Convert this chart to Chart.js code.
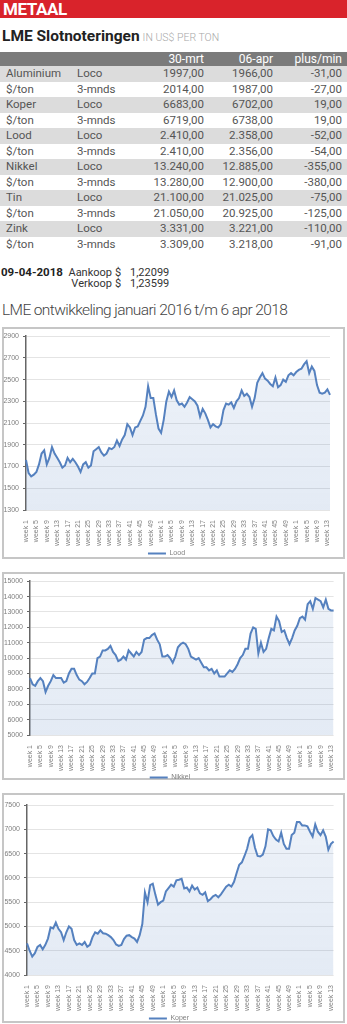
<!DOCTYPE html>
<html>
<head>
<meta charset="utf-8">
<script src="https://cdn.jsdelivr.net/npm/chart.js@4.4.1/dist/chart.umd.min.js"></script>
<style>
  html, body { margin: 0; padding: 0; width: 347px; height: 1024px; overflow: hidden; background: #fff; }
  body { position: relative; font-family: Roboto, "Liberation Sans", sans-serif; color: #444; }
  .abs { position: absolute; white-space: nowrap; }
  #kop { left: 0; top: 0; width: 347px; height: 18px; background: #d9232b; color: #fff;
         font-weight: 700; font-size: 17px; line-height: 18px; padding-left: 3px; box-sizing: border-box; letter-spacing: -0.4px; }
  #titel { left: 2px; top: 29px; font-size: 15.5px; line-height: 15px; font-weight: 700; color: #222; }
  #titel span { font-weight: 300; font-size: 10.5px; color: #a8a8a8; margin-left: 3px; }
  #tabel { left: 0; top: 52px; width: 347px; font-size: 11.5px; }
  .rij { position: relative; height: 15.5px; line-height: 15.5px; color: #555; }
  .rij.kopr { height: 14px; line-height: 14px; background: #7b7b7b; color: #fff; font-size: 12px; }
  .rij.grijs { background: #dcdcdc; }
  .rij div { position: absolute; top: 0; }
  .c1 { left: 6px; } .c2 { left: 77px; }
  .c3 { right: 143px; } .c4 { right: 74px; } .c5 { right: 5px; }
  #koers { left: 0; top: 265px; width: 200px; height: 24px; font-size: 11px; line-height: 10.5px; color: #333; }
  #koers div { position: absolute; }
  #koers .datum { left: 1px; top: 2px; font-weight: 700; font-size: 11.5px; color: #222; }
  #koers .lbl { left: 0; width: 112px; text-align: right; }
  #ontw { left: 2px; top: 302px; font-size: 15.5px; line-height: 16px; font-weight: 300; color: #444; letter-spacing: -0.6px; }
  .box { position: absolute; left: 2px; width: 343px; box-sizing: border-box; border: 2px solid #c6c6c6; }
  .wrap { position: absolute; left: 3px; width: 341px; }
</style>
</head>
<body>
<div id="kop" class="abs">METAAL</div>
<div id="titel" class="abs">LME Slotnoteringen<span>IN US$ PER TON</span></div>
<div id="tabel" class="abs"></div>
<div id="koers" class="abs">
  <div class="datum">09-04-2018</div>
  <div class="lbl" style="top:3px;">Aankoop</div>
  <div style="left:115px;top:3px;">$</div>
  <div style="left:130px;top:3px;">1,22099</div>
  <div class="lbl" style="top:13.5px;">Verkoop</div>
  <div style="left:115px;top:13.5px;">$</div>
  <div style="left:130px;top:13.5px;">1,23599</div>
</div>
<div id="ontw" class="abs">LME ontwikkeling januari 2016 t/m 6 apr 2018</div>

<div class="box" style="top:327px;height:232px;"></div>
<div class="wrap" style="top:328px;height:239px;"><canvas id="loodChart"></canvas></div>
<div class="box" style="top:572px;height:208px;"></div>
<div class="wrap" style="top:573px;height:218px;"><canvas id="nikkelChart"></canvas></div>
<div class="box" style="top:793px;height:230px;"></div>
<div class="wrap" style="top:794px;height:238px;"><canvas id="koperChart"></canvas></div>

<script>
// slotnoteringen
const tableHeader = ['', '', '30-mrt', '06-apr', 'plus/min'];
const rowMetal = ['Aluminium', '$/ton', 'Koper', '$/ton', 'Lood', '$/ton', 'Nikkel', '$/ton', 'Tin', '$/ton', 'Zink', '$/ton'];
const rowTerm = ['Loco', '3-mnds', 'Loco', '3-mnds', 'Loco', '3-mnds', 'Loco', '3-mnds', 'Loco', '3-mnds', 'Loco', '3-mnds'];
const price30mrt = ['1997,00', '2014,00', '6683,00', '6719,00', '2.410,00', '2.410,00', '13.240,00', '13.280,00', '21.100,00', '21.050,00', '3.331,00', '3.309,00'];
const price06apr = ['1966,00', '1987,00', '6702,00', '6738,00', '2.358,00', '2.356,00', '12.885,00', '12.900,00', '21.025,00', '20.925,00', '3.221,00', '3.218,00'];
const plusMin = ['-31,00', '-27,00', '19,00', '19,00', '-52,00', '-54,00', '-355,00', '-380,00', '-75,00', '-125,00', '-110,00', '-91,00'];

// weken per jaar (2016, 2017, 2018 t/m week 14)
const weeksPerYear = [52, 52, 14];

const loodData = [
  1760,1640,1610,1625,1650,1720,1820,1850,1720,1780,
  1880,1820,1780,1740,1690,1710,1780,1740,1770,1740,
  1700,1650,1720,1740,1690,1710,1840,1860,1880,1830,
  1800,1820,1870,1860,1880,1940,1890,1950,1990,2090,
  2060,1990,2060,2070,2120,2170,2250,2440,2330,2330,
  2180,2050,2010,2130,2300,2390,2340,2400,2310,2270,
  2280,2250,2290,2340,2320,2300,2260,2160,2230,2190,
  2130,2060,2090,2070,2060,2090,2220,2280,2270,2290,
  2240,2300,2330,2400,2350,2370,2340,2250,2330,2470,
  2520,2560,2510,2490,2460,2440,2520,2430,2450,2500,
  2480,2540,2560,2540,2570,2590,2600,2640,2670,2560,
  2620,2580,2450,2380,2370,2380,2410,2360
];
const nikkelData = [
  8700,8300,8200,8500,8700,8500,7800,8200,8500,8900,
  8700,8700,8700,8400,8500,9000,9300,9300,8900,8600,
  8500,8300,8450,8700,9000,9000,10000,10100,10500,10500,
  10600,10800,10400,10200,9800,9900,10100,9900,10500,10300,
  10100,10400,10200,10400,11200,11300,11300,11500,11600,11200,
  10900,10100,10100,10200,10000,9700,10100,10700,10900,11000,
  10900,10600,10100,10000,9900,10000,9700,9400,9400,9200,
  9300,9000,9200,8800,8800,8800,9000,9200,9100,9300,
  9600,10000,10200,10600,10600,11600,12000,11900,10300,11000,
  10400,10600,11300,11900,11800,12700,12400,11700,11800,11300,
  10900,11300,11800,12100,12600,12700,12500,13500,13700,13200,
  13900,13800,13700,13300,13800,13200,13100,13100
];
const koperData = [
  4650,4500,4380,4450,4580,4620,4530,4620,4750,4980,
  4960,5080,4950,4880,4720,4880,5000,4950,4720,4620,
  4650,4620,4680,4580,4620,4780,4880,4850,4920,4860,
  4850,4820,4780,4720,4630,4600,4620,4740,4810,4820,
  4780,4750,4680,4820,5050,5700,5500,5850,5880,5650,
  5450,5500,5530,5720,5790,5860,5820,5950,5960,5980,
  5780,5800,5720,5840,5760,5800,5680,5650,5700,5520,
  5560,5620,5650,5600,5660,5740,5820,5860,5820,5920,
  6100,6270,6320,6450,6600,6820,6880,6620,6450,6440,
  6480,6650,7000,6980,6860,6790,6750,6930,6700,6600,
  6600,6880,6930,7150,7150,7080,7080,7060,6950,6850,
  7100,6950,6880,6980,6850,6580,6700,6750
];

// y-as bereik per grafiek: min, max, stap
const loodAxis = [1300, 2900, 200];
const nikkelAxis = [5000, 15000, 1000];
const koperAxis = [4000, 7500, 500];

// tabel opbouwen
const tabel = document.getElementById('tabel');
function addRow(cells, cls) {
  const row = document.createElement('div');
  row.className = 'rij ' + cls;
  cells.forEach((txt, i) => {
    const c = document.createElement('div');
    c.className = 'c' + (i + 1);
    c.textContent = txt;
    row.appendChild(c);
  });
  tabel.appendChild(row);
}
addRow(tableHeader, 'kopr');
rowMetal.forEach((m, i) => {
  addRow([m, rowTerm[i], price30mrt[i], price06apr[i], plusMin[i]], i % 2 === 0 ? 'grijs' : '');
});

const weekLabels = [];
weeksPerYear.forEach(n => {
  for (let w = 1; w <= n; w++) weekLabels.push('week ' + w);
});

const lineColor = '#5581bf';
const tickColor = '#7f7f7f';

function renderChart(canvasId, title, data, axis, lay) {
  const canvas = document.getElementById(canvasId);
  return new Chart(canvas, {
    type: 'line',
    data: {
      labels: weekLabels,
      datasets: [{
        label: title,
        data: data,
        borderColor: lineColor,
        borderWidth: 2,
        pointRadius: 0,
        tension: 0,
        fill: 'start',
        backgroundColor: (context) => {
          const { ctx, chartArea } = context.chart;
          if (!chartArea) return 'rgba(85,129,191,0.12)';
          const g = ctx.createLinearGradient(0, chartArea.top, 0, chartArea.bottom);
          g.addColorStop(0, 'rgba(85,129,191,0.10)');
          g.addColorStop(1, 'rgba(85,129,191,0.16)');
          return g;
        }
      }]
    },
    options: {
      responsive: true,
      maintainAspectRatio: false,
      animation: false,
      layout: { padding: { top: lay.top, right: lay.right, bottom: 0, left: 0 } },
      scales: {
        x: {
          grid: { display: false },
          border: { display: false },
          ticks: {
            autoSkip: false,
            minRotation: 90,
            maxRotation: 90,
            padding: 2,
            color: tickColor,
            font: { size: 7, family: 'Liberation Sans' },
            callback: function (value, index) {
              return index % 4 === 0 ? this.getLabelForValue(value) : '';
            }
          },
          afterFit: (scale) => { scale.height = lay.xH; }
        },
        y: {
          min: axis[0],
          max: axis[1],
          grid: { color: '#e4e4e4', drawTicks: true, tickLength: 3, tickColor: '#666' },
          border: { color: '#666', width: 1.5 },
          ticks: {
            stepSize: axis[2],
            padding: 4,
            color: tickColor,
            font: { size: 7, family: 'Liberation Sans' },
            callback: (value) => String(value)
          },
          afterFit: (scale) => { scale.width = lay.yW; }
        }
      },
      plugins: {
        legend: {
          position: 'bottom',
          labels: {
            usePointStyle: true,
            pointStyle: 'line',
            pointStyleWidth: 18,
            padding: 2,
            color: tickColor,
            font: { size: 7, family: 'Liberation Sans' }
          }
        },
        tooltip: { enabled: false }
      }
    }
  });
}

renderChart('loodChart', 'Lood', loodData, loodAxis, { top: 7, right: 14, yW: 23, xH: 38 });
renderChart('nikkelChart', 'Nikkel', nikkelData, nikkelAxis, { top: 8, right: 7, yW: 27, xH: 37 });
renderChart('koperChart', 'Koper', koperData, koperAxis, { top: 11, right: 9, yW: 24, xH: 38 });
</script>
</body>
</html>
